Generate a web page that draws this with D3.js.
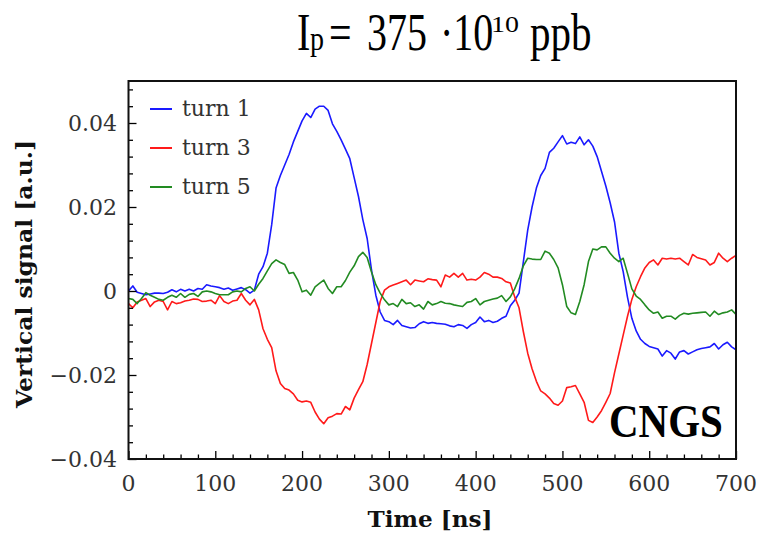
<!DOCTYPE html>
<html><head><meta charset="utf-8">
<script src="https://cdn.jsdelivr.net/npm/d3@7"></script>
<style>body{margin:0;background:#fff}svg{display:block}
.ser{font-family: "DejaVu Serif", serif;}
.tms{font-family: "Liberation Serif", serif;}
</style>
</head><body>
<script>
// ---- data ----
const timeStepNs = 5;          // sampling grid of the traces (ns)
const xTicks = [0,100,200,300,400,500,600,700];
const yTicks = [-0.04,-0.02,0,0.02,0.04];
const seriesNames = ["turn 1","turn 3","turn 5"];
const seriesColors = ["#1a1aff","#ff1a1a","#228b22"];

const turn1 = [
 0.0000,0.0012,-0.0003,-0.0006,-0.0009,-0.0007,-0.0005,-0.0005,-0.0006,-0.0003,
 0.0003,-0.0002,0.0004,0.0000,0.0004,0.0000,0.0006,0.0004,0.0015,0.0012,
 0.0010,0.0008,0.0004,0.0007,0.0002,0.0005,0.0008,0.0003,-0.0005,0.0002,
 0.0040,0.0058,0.0090,0.0158,0.0245,0.0275,0.0300,0.0325,0.0355,0.0380,
 0.0405,0.0423,0.0413,0.0433,0.0440,0.0440,0.0430,0.0398,0.0380,0.0360,
 0.0338,0.0315,0.0270,0.0225,0.0170,0.0125,0.0050,-0.0010,-0.0050,-0.0070,
 -0.0073,-0.0080,-0.0070,-0.0082,-0.0085,-0.0088,-0.0087,-0.0078,-0.0073,-0.0077,
 -0.0075,-0.0077,-0.0078,-0.0079,-0.0083,-0.0085,-0.0080,-0.0082,-0.0089,-0.0080,
 -0.0075,-0.0062,-0.0073,-0.0070,-0.0075,-0.0072,-0.0065,-0.0060,-0.0035,-0.0022,
 -0.0005,0.0070,0.0145,0.0200,0.0245,0.0275,0.0292,0.0330,0.0340,0.0355,
 0.0370,0.0350,0.0354,0.0351,0.0367,0.0348,0.0360,0.0345,0.0320,0.0285,
 0.0250,0.0210,0.0165,0.0090,0.0046,-0.0015,-0.0065,-0.0095,-0.0115,-0.0125,
 -0.0132,-0.0135,-0.0138,-0.0155,-0.0142,-0.0148,-0.0162,-0.0145,-0.0142,-0.0150,
 -0.0145,-0.0140,-0.0137,-0.0135,-0.0133,-0.0125,-0.0138,-0.0128,-0.0122,-0.0133,
 -0.0140];

const turn3 = [
 -0.0030,-0.0040,-0.0026,-0.0022,-0.0018,-0.0037,-0.0026,-0.0022,-0.0025,-0.0045,
 -0.0025,-0.0030,-0.0028,-0.0024,-0.0022,-0.0019,-0.0020,-0.0025,-0.0024,-0.0022,
 -0.0030,-0.0011,-0.0025,-0.0030,-0.0024,-0.0022,-0.0006,-0.0022,-0.0033,-0.0020,
 -0.0045,-0.0090,-0.0115,-0.0135,-0.0190,-0.0220,-0.0232,-0.0236,-0.0245,-0.0260,
 -0.0264,-0.0262,-0.0265,-0.0288,-0.0305,-0.0316,-0.0302,-0.0298,-0.0292,-0.0293,
 -0.0275,-0.0283,-0.0255,-0.0235,-0.0216,-0.0175,-0.0125,-0.0075,-0.0025,0.0002,
 0.0010,0.0014,0.0018,0.0022,0.0026,0.0015,0.0026,0.0024,0.0022,0.0029,
 0.0027,0.0026,0.0010,0.0038,0.0033,0.0042,0.0033,0.0042,0.0026,0.0028,
 0.0026,0.0033,0.0044,0.0040,0.0033,0.0033,0.0030,0.0022,0.0019,-0.0014,
 -0.0040,-0.0097,-0.0148,-0.0185,-0.0215,-0.0238,-0.0245,-0.0255,-0.0268,-0.0272,
 -0.0262,-0.0230,-0.0228,-0.0225,-0.0245,-0.0265,-0.0308,-0.0313,-0.0300,-0.0285,
 -0.0265,-0.0244,-0.0195,-0.0150,-0.0105,-0.0060,-0.0020,0.0010,0.0034,0.0055,
 0.0068,0.0074,0.0062,0.0078,0.0076,0.0078,0.0076,0.0078,0.0070,0.0062,
 0.0087,0.0080,0.0077,0.0074,0.0062,0.0068,0.0090,0.0078,0.0070,0.0078,
 0.0085];

const turn5 = [
 -0.0018,-0.0020,-0.0030,-0.0018,-0.0004,-0.0010,-0.0015,-0.0020,-0.0022,-0.0015,
 -0.0010,-0.0015,-0.0006,-0.0015,-0.0008,-0.0006,-0.0013,-0.0002,0.0000,-0.0002,
 -0.0006,-0.0009,-0.0009,-0.0009,-0.0002,0.0000,-0.0002,0.0006,0.0010,0.0000,
 0.0016,0.0030,0.0048,0.0065,0.0074,0.0068,0.0063,0.0042,0.0044,0.0026,
 -0.0002,0.0002,-0.0010,0.0010,0.0018,0.0026,0.0006,-0.0006,0.0010,0.0010,
 0.0025,0.0045,0.0060,0.0082,0.0092,0.0080,0.0045,0.0015,-0.0005,-0.0021,
 -0.0033,-0.0030,-0.0037,-0.0020,-0.0030,-0.0028,-0.0037,-0.0033,-0.0043,-0.0025,
 -0.0033,-0.0030,-0.0025,-0.0029,-0.0030,-0.0033,-0.0035,-0.0037,-0.0027,-0.0025,
 -0.0018,-0.0033,-0.0025,-0.0022,-0.0019,-0.0017,-0.0011,-0.0025,-0.0014,0.0005,
 0.0030,0.0060,0.0078,0.0076,0.0075,0.0075,0.0095,0.0090,0.0075,0.0055,
 0.0015,-0.0037,-0.0052,-0.0056,-0.0025,0.0015,0.0070,0.0100,0.0098,0.0105,
 0.0105,0.0090,0.0078,0.0070,0.0078,0.0042,0.0005,-0.0012,-0.0020,-0.0033,
 -0.0045,-0.0053,-0.0050,-0.0065,-0.0060,-0.0060,-0.0067,-0.0058,-0.0053,-0.0055,
 -0.0053,-0.0052,-0.0051,-0.0050,-0.0060,-0.0048,-0.0056,-0.0052,-0.0050,-0.0045,
 -0.0056];

const seriesValues = [turn1, turn3, turn5];

// ---- drawing ----
const W = 758, H = 536;
const svg = d3.select("body").append("svg").attr("width", W).attr("height", H);

const x = d3.scaleLinear().domain([0, 700]).range([128.5, 736]);
const y = d3.scaleLinear().domain([-0.04, 0.05]).range([459, 81]);

// traces
const line = d3.line().x((d, i) => x(i * timeStepNs)).y(d => y(d));
const plot = svg.append("g");
plot.append("clipPath").attr("id", "clip").append("rect")
  .attr("x", x(0)).attr("y", y(0.05)).attr("width", x(700) - x(0)).attr("height", y(-0.04) - y(0.05));
seriesValues.forEach((vals, k) => {
  plot.append("path").datum(vals)
    .attr("clip-path", "url(#clip)")
    .attr("fill", "none").attr("stroke", seriesColors[k])
    .attr("stroke-width", 1.6).attr("stroke-linejoin", "round")
    .attr("d", line);
});

// axes: inward ticks
const fmtY = v => v === 0 ? "0" : (v < 0 ? "\u2212" : "") + Math.abs(v).toFixed(2);
const xMinor = d3.range(0, 701, 20).filter(v => !xTicks.includes(v));
const yMinor = d3.range(-40, 49, 4).map(v => v / 1000).filter(v => !yTicks.some(t => Math.abs(t - v) < 1e-9));

const axX = svg.append("g").attr("transform", `translate(0,${y(-0.04)})`);
axX.call(d3.axisBottom(x).tickValues(xTicks).tickSizeInner(-8).tickSizeOuter(0).tickFormat(""));
axX.append("g").call(d3.axisBottom(x).tickValues(xMinor).tickSizeInner(-4.5).tickSizeOuter(0).tickFormat(""));
axX.selectAll(".domain").remove();
axX.selectAll("line").attr("stroke", "#000").attr("stroke-width", 1.3);

const axY = svg.append("g").attr("transform", `translate(${x(0)},0)`);
axY.call(d3.axisLeft(y).tickValues(yTicks).tickSizeInner(-8).tickSizeOuter(0).tickFormat(""));
axY.append("g").call(d3.axisLeft(y).tickValues(yMinor).tickSizeInner(-4.5).tickSizeOuter(0).tickFormat(""));
axY.selectAll(".domain").remove();
axY.selectAll("line").attr("stroke", "#000").attr("stroke-width", 1.3);

// frame
svg.append("rect").attr("x", x(0)).attr("y", y(0.05))
  .attr("width", x(700) - x(0)).attr("height", y(-0.04) - y(0.05))
  .attr("fill", "none").attr("stroke", "#111").attr("stroke-width", 2);

// tick labels
svg.append("g").selectAll("text").data(xTicks).join("text")
  .attr("class", "ser")
  .attr("x", d => x(d)).attr("y", 491).attr("text-anchor", "middle")
  .attr("font-size", 22).attr("fill", "#333")
  .text(d => d);
svg.append("g").selectAll("text").data(yTicks).join("text")
  .attr("class", "ser")
  .attr("x", 117).attr("y", d => y(d)).attr("dy", "0.36em").attr("text-anchor", "end")
  .attr("font-size", 22).attr("fill", "#333")
  .text(fmtY);

// axis titles
svg.append("text").attr("class", "ser").attr("x", 430).attr("y", 527).attr("text-anchor", "middle")
  .attr("font-weight", "bold").attr("font-size", 22)
  .attr("textLength", 125).attr("lengthAdjust", "spacingAndGlyphs").attr("fill", "#111")
  .text("Time [ns]");
svg.append("text").attr("class", "ser").attr("transform", "translate(32,274) rotate(-90)").attr("text-anchor", "middle")
  .attr("font-weight", "bold").attr("font-size", 22)
  .attr("textLength", 268).attr("lengthAdjust", "spacingAndGlyphs").attr("fill", "#111")
  .text("Vertical signal [a.u.]");

// legend
const legY = [109, 148, 187];
const leg = svg.append("g");
seriesNames.forEach((name, k) => {
  leg.append("line").attr("x1", 150).attr("x2", 172).attr("y1", legY[k]).attr("y2", legY[k])
    .attr("stroke", seriesColors[k]).attr("stroke-width", 2);
  leg.append("text").attr("class", "ser").attr("x", 182).attr("y", legY[k] + 7)
    .attr("font-size", 22).attr("fill", "#333")
    .text(name);
});

// title pieces (stretched vertically like the reference)
function piece(cls, txt, px, py, size, sy, weight) {
  svg.append("text").attr("class", cls)
    .attr("transform", `translate(${px},${py}) scale(1,${sy})`)
    .attr("font-size", size).attr("font-weight", weight || "normal")
    .attr("fill", "#000").text(txt);
}
piece("tms", "I", 297, 50, 40, 1.3);
piece("tms", "p", 310, 50, 28, 1.2);
piece("tms", "=", 329, 50, 40, 1.3);
piece("tms", "375", 367, 50, 40, 1.3);
piece("tms", "\u00b710", 440, 50, 40, 1.3);
piece("tms", "10", 491, 32, 28, 0.85);
piece("tms", "ppb", 530, 50, 41, 1.3);

// CNGS label
piece("tms", "CNGS", 609, 437, 41, 1.12, "bold");
</script>
</body></html>
